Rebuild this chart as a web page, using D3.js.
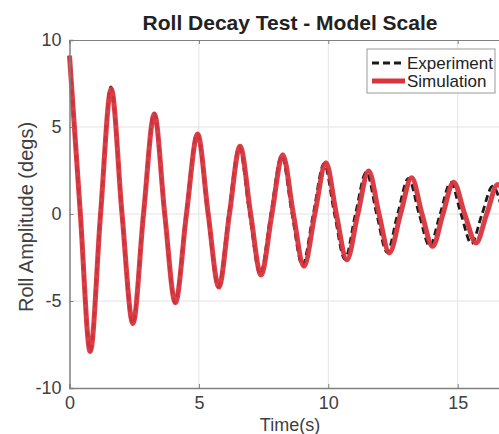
<!DOCTYPE html>
<html>
<head>
<meta charset="utf-8">
<script src="https://cdn.jsdelivr.net/npm/d3@7"></script>
<style>
  html, body { margin: 0; padding: 0; background: #fff; }
  svg { display: block; font-family: Arial, "Liberation Sans", sans-serif; }
</style>
</head>
<body>
<div id="chart"></div>
<script>
// roll decay, values (extrema + zero crossings)
const simTime = [0.00, 0.42, 0.80, 1.20, 1.61, 2.03, 2.45, 2.86, 3.28, 3.68, 4.09, 4.52, 4.95, 5.36,
  5.77, 6.18, 6.59, 7.00, 7.40, 7.82, 8.24, 8.65, 9.06, 9.48, 9.91, 10.31, 10.72, 11.14, 11.56,
  11.96, 12.36, 12.79, 13.22, 13.62, 14.03, 14.43, 14.84, 15.27, 15.71, 16.12, 16.55, 16.97];
const simRoll = [9.1, 0, -7.9, 0, 7.2, 0, -6.3, 0, 5.75, 0, -5.1, 0, 4.6, 0,
  -4.2, 0, 3.9, 0, -3.5, 0, 3.4, 0, -3.0, 0, 2.95, 0, -2.63, 0, 2.47,
  0, -2.24, 0, 2.09, 0, -1.86, 0, 1.83, 0, -1.66, 0, 1.7, 0];

const expTime = [0.00, 0.41, 0.80, 1.19, 1.60, 2.02, 2.44, 2.85, 3.27, 3.67, 4.08, 4.50, 4.93, 5.34,
  5.75, 6.15, 6.56, 6.96, 7.37, 7.78, 8.20, 8.60, 9.00, 9.42, 9.84, 10.24, 10.64, 11.05, 11.47,
  11.87, 12.27, 12.68, 13.10, 13.51, 13.92, 14.32, 14.73, 15.13, 15.53, 15.94, 16.35, 16.76];
const expRoll = [9.1, 0, -7.9, 0, 7.3, 0, -6.3, 0, 5.8, 0, -5.1, 0, 4.6, 0,
  -4.2, 0, 3.85, 0, -3.45, 0, 3.35, 0, -2.95, 0, 2.9, 0, -2.6, 0, 2.4,
  0, -2.2, 0, 2.05, 0, -1.85, 0, 1.8, 0, -1.7, 0, 1.6, 0];

const xTicks = [0, 5, 10, 15];
const yTicks = [-10, -5, 0, 5, 10];
const seriesNames = ["Experiment", "Simulation"];

const width = 499;
const height = 434;
const margin = {left: 69.5, top: 40, bottom: 46};
const redColor = "#d8343c";

const svg = d3.select("#chart").append("svg")
    .attr("width", width)
    .attr("height", height);

// axes cut off at the right edge in the original, 25.9 px per second
const x = d3.scaleLinear().domain([0, 20]).range([margin.left, margin.left + 20 * 25.88]);
const y = d3.scaleLinear().domain([-10, 10]).range([height - margin.bottom, margin.top]);

const plotRight = x(20);

// grid
svg.append("g")
    .selectAll("line")
    .data(xTicks.slice(1))
    .join("line")
    .attr("x1", d => x(d)).attr("x2", d => x(d))
    .attr("y1", y(10)).attr("y2", y(-10))
    .attr("stroke", "#e3e3e3").attr("stroke-width", 1);

svg.append("g")
    .selectAll("line")
    .data([-5, 0, 5])
    .join("line")
    .attr("x1", margin.left).attr("x2", plotRight)
    .attr("y1", d => y(d)).attr("y2", d => y(d))
    .attr("stroke", "#e3e3e3").attr("stroke-width", 1);

// lines
const line = (ts, vs) => d3.line()
    .x(i => x(ts[i]))
    .y(i => y(vs[i]))
    .curve(d3.curveMonotoneX)(d3.range(ts.length));

svg.append("path")
    .attr("d", line(expTime, expRoll))
    .attr("fill", "none")
    .attr("stroke", "#1a1a1a")
    .attr("stroke-width", 2.8)
    .attr("stroke-dasharray", "7,4");

svg.append("path")
    .attr("d", line(simTime, simRoll))
    .attr("fill", "none")
    .attr("stroke", redColor)
    .attr("stroke-width", 5)
    .attr("stroke-opacity", 0.95)
    .attr("stroke-linejoin", "round");

// axes
const axisColor = "#808080";
const fmt = d => String(d);   // plain hyphen like the original

const xAxis = svg.append("g")
    .attr("transform", `translate(0,${y(-10)})`)
    .call(d3.axisBottom(x).tickValues(xTicks).tickSize(-4).tickPadding(8).tickFormat(fmt));
xAxis.select(".domain").attr("stroke", axisColor).attr("stroke-width", 1.5);

const xTop = svg.append("g")
    .attr("transform", `translate(0,${y(10)})`)
    .call(d3.axisTop(x).tickValues(xTicks).tickSize(-4).tickFormat(""));
xTop.select(".domain").attr("stroke", axisColor).attr("stroke-width", 1.2);

const yAxis = svg.append("g")
    .attr("transform", `translate(${margin.left},0)`)
    .call(d3.axisLeft(y).tickValues(yTicks).tickSize(-4).tickPadding(8).tickFormat(fmt));
yAxis.select(".domain").attr("stroke", axisColor).attr("stroke-width", 1.5);

svg.selectAll(".tick line").attr("stroke", axisColor);
svg.selectAll(".tick text")
    .attr("fill", "#404040")
    .attr("font-size", "18px")
    .attr("font-family", "Arial, 'Liberation Sans', sans-serif");

// titles
svg.append("text")
    .attr("x", 290)
    .attr("y", 30)
    .attr("text-anchor", "middle")
    .attr("font-size", "21px")
    .attr("font-weight", "bold")
    .attr("fill", "#222")
    .text("Roll Decay Test - Model Scale");

svg.append("text")
    .attr("x", 290)
    .attr("y", 431)
    .attr("text-anchor", "middle")
    .attr("font-size", "18px")
    .attr("fill", "#404040")
    .text("Time(s)");

svg.append("text")
    .attr("transform", `translate(33,217) rotate(-90)`)
    .attr("text-anchor", "middle")
    .attr("font-size", "20px")
    .attr("fill", "#404040")
    .text("Roll Amplitude (degs)");

// legend
const legend = svg.append("g").attr("transform", "translate(367,49)");
legend.append("rect")
    .attr("width", 128).attr("height", 44)
    .attr("fill", "#fff")
    .attr("stroke", "#999").attr("stroke-width", 1);

const rows = legend.selectAll("g")
    .data(seriesNames)
    .join("g")
    .attr("transform", (d, i) => `translate(0,${14 + i * 18})`);

rows.append("line")
    .attr("x1", 5).attr("x2", 38)
    .attr("stroke", (d, i) => i === 0 ? "#1a1a1a" : redColor)
    .attr("stroke-width", (d, i) => i === 0 ? 3 : 5)
    .attr("stroke-dasharray", (d, i) => i === 0 ? "7,4" : null);

rows.append("text")
    .attr("x", 40)
    .attr("y", 6)
    .attr("font-size", "17px")
    .attr("fill", "#222")
    .text(d => d);
</script>
</body>
</html>
